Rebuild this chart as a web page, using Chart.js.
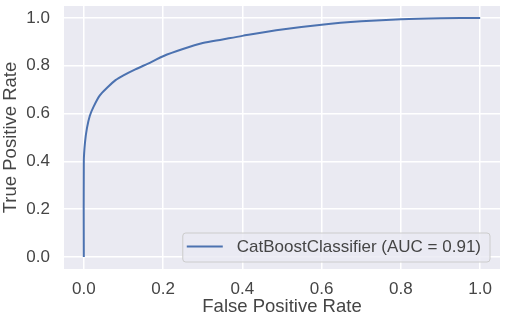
<!DOCTYPE html>
<html>
<head>
<meta charset="utf-8">
<script src="https://cdn.jsdelivr.net/npm/chart.js@4.4.1/dist/chart.umd.min.js"></script>
<style>
  html, body { margin: 0; padding: 0; background: #fff; }
  #wrap { width: 505px; height: 322px; }
</style>
</head>
<body>
<div id="wrap"><canvas id="rocChart" width="505" height="322"></canvas></div>
<script>
// ===== DATA =====
const fpr = [0, 0, 0.003, 0.008, 0.015, 0.025, 0.04, 0.06, 0.08, 0.1, 0.13, 0.17, 0.2, 0.25, 0.3, 0.35, 0.4, 0.5, 0.6, 0.7, 0.8, 0.9, 1.0];
const tpr = [0, 0.4, 0.48, 0.54, 0.59, 0.63, 0.675, 0.71, 0.74, 0.76, 0.785, 0.815, 0.84, 0.87, 0.895, 0.91, 0.925, 0.952, 0.972, 0.986, 0.995, 0.999, 1.0];
const xTicks = [0, 0.2, 0.4, 0.6, 0.8, 1.0];
const yTicks = [0, 0.2, 0.4, 0.6, 0.8, 1.0];
const seriesLabel = 'CatBoostClassifier (AUC = 0.91)';

const points = fpr.map((x, i) => ({ x: x, y: tpr[i] }));

const FONT = "'Liberation Sans', Arial, sans-serif";
const TEXT = '#454545';

// gray plot background (seaborn darkgrid look)
const bgPlugin = {
  id: 'bg',
  beforeDraw(chart) {
    const { ctx, chartArea: a } = chart;
    ctx.save();
    ctx.fillStyle = '#EAEAF2';
    ctx.fillRect(a.left, a.top, a.right - a.left, a.bottom - a.top);
    ctx.restore();
  }
};

// legend box in lower right of the plot
const legendPlugin = {
  id: 'boxLegend',
  afterDatasetsDraw(chart) {
    const { ctx, chartArea: a } = chart;
    const ds = chart.data.datasets[0];
    ctx.save();
    ctx.font = '17px ' + FONT;
    const tw = ctx.measureText(ds.label).width;
    const w = tw + 63, h = 29;
    const x = a.right - 10 - w, y = a.bottom - 7 - h;
    ctx.beginPath();
    ctx.roundRect(x, y, w, h, 3);
    ctx.fillStyle = 'rgba(234,234,242,0.8)';
    ctx.fill();
    ctx.strokeStyle = '#cccccc';
    ctx.lineWidth = 1;
    ctx.stroke();
    ctx.beginPath();
    ctx.moveTo(x + 4, y + h / 2 - 1);
    ctx.lineTo(x + 40, y + h / 2 - 1);
    ctx.strokeStyle = ds.borderColor;
    ctx.lineWidth = 2;
    ctx.stroke();
    ctx.fillStyle = TEXT;
    ctx.textBaseline = 'middle';
    ctx.fillText(ds.label, x + 54, y + h / 2);
    ctx.restore();
  }
};

new Chart(document.getElementById('rocChart'), {
  type: 'scatter',
  data: {
    datasets: [{
      label: seriesLabel,
      data: points,
      showLine: true,
      borderColor: '#4C72B0',
      borderWidth: 2,
      pointRadius: 0,
      tension: 0.3
    }]
  },
  options: {
    responsive: false,
    animation: false,
    layout: { padding: { top: 6, right: 5, left: 0, bottom: 0 } },
    plugins: {
      legend: { display: false },
      tooltip: { enabled: false }
    },
    scales: {
      x: {
        type: 'linear',
        min: -0.05,
        max: 1.05,
        afterBuildTicks: s => { s.ticks = xTicks.map(v => ({ value: v })); },
        afterFit: s => { s.height = 53; s.paddingLeft = 0; s.paddingRight = 0; },
        border: { display: false },
        grid: { color: '#ffffff', lineWidth: 1.5, drawTicks: false },
        ticks: {
          padding: 10,
          color: TEXT,
          font: { family: FONT, size: 17 },
          callback: v => v.toFixed(1)
        },
        title: {
          display: true,
          text: 'False Positive Rate',
          color: TEXT,
          font: { family: FONT, size: 18.5 },
          padding: { top: 0, bottom: 4 }
        }
      },
      y: {
        type: 'linear',
        min: -0.05,
        max: 1.05,
        afterBuildTicks: s => { s.ticks = yTicks.map(v => ({ value: v })); },
        afterFit: s => { s.width = 64; s.paddingTop = 0; s.paddingBottom = 0; },
        border: { display: false },
        grid: { color: '#ffffff', lineWidth: 1.5, drawTicks: false },
        ticks: {
          padding: 14,
          color: TEXT,
          font: { family: FONT, size: 17 },
          callback: v => v.toFixed(1)
        },
        title: {
          display: true,
          text: 'True Positive Rate',
          color: TEXT,
          font: { family: FONT, size: 18.5 },
          padding: { top: 0, bottom: 0 }
        }
      }
    }
  },
  plugins: [bgPlugin, legendPlugin]
});
</script>
</body>
</html>
